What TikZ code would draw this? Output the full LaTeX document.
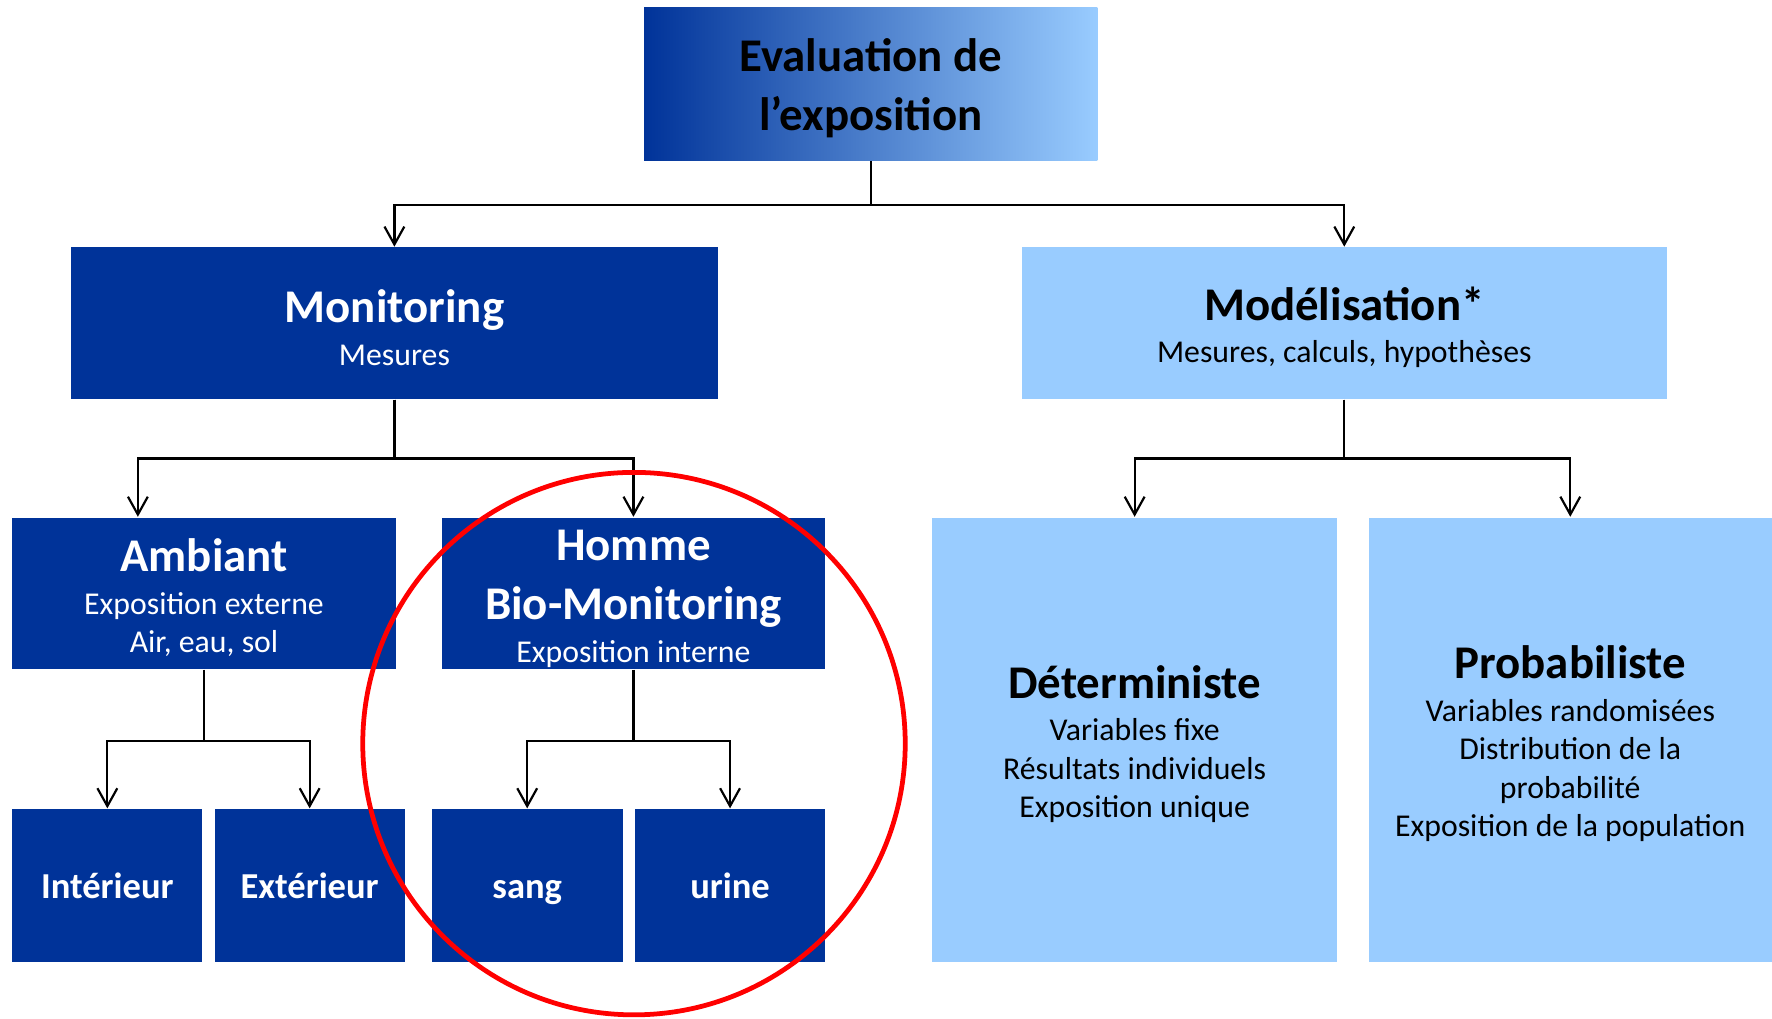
\documentclass[tikz,border=0pt]{standalone}
\usepackage{fontspec}
\setmainfont{Carlito}
\usepackage{xcolor}
\usepackage{tikz}
\usetikzlibrary{arrows.meta, positioning, calc}
\definecolor{darkblue}{RGB}{0,51,153}
\definecolor{lightblue}{RGB}{153,204,255}
\newcommand{\titfont}{\bfseries\fontsize{11.8}{14.8}\selectfont}
\newcommand{\subfont}{\fontsize{8}{9.7}\selectfont}
\newcommand{\leaffont}{\bfseries\fontsize{9.2}{11}\selectfont}
\newcommand{\boxtitle}[1]{{\titfont\rule{0pt}{10.5pt}#1}}

\begin{document}
\begin{tikzpicture}[
    darkbox/.style={fill=darkblue, text=white, inner sep=0pt, align=center, font=\subfont},
    lightbox/.style={fill=lightblue, text=black, inner sep=0pt, align=center, font=\subfont},
    leafbox/.style={darkbox, minimum height=1.35cm, font=\leaffont, text height=6.6pt, text depth=0pt},
    stem/.style={black, line width=0.55pt},
    link/.style={stem, -{Straight Barb[length=4.5pt, width=5pt]}}
]
    \useasboundingbox (0,0) rectangle (15.68,-9.01);

    \node[inner sep=0pt, minimum width=4.01cm, minimum height=1.35cm,
          left color=darkblue, middle color=lightblue!72!darkblue, right color=lightblue,
          align=center, font=\titfont, text depth=0pt] (Eval) at (7.705,-0.745) {Evaluation de\\l’exposition};

    \node[darkbox, minimum width=5.72cm, minimum height=1.34cm] (Mon) at (3.49,-2.86)
        {\boxtitle{Monitoring}\\[1pt]Mesures};
    \node[lightbox, minimum width=5.71cm, minimum height=1.34cm] (Mod) at (11.895,-2.86)
        {\boxtitle{Modélisation*}\\[1pt]Mesures, calculs, hypothèses};

    \node[darkbox, minimum width=3.39cm, minimum height=1.34cm] (Amb) at (1.805,-5.25)
        {\boxtitle{Ambiant}\\[1pt]Exposition externe\\Air, eau, sol};
    \node[darkbox, minimum width=3.39cm, minimum height=1.34cm] (Hom) at (5.605,-5.25)
        {\boxtitle{Homme}\\[5.1pt]{\titfont Bio-Monitoring}\\[1pt]Exposition interne};

    \node[leafbox, minimum width=1.68cm] (Int) at (0.95,-7.835) {Intérieur};
    \node[leafbox, minimum width=1.68cm] (Ext) at (2.74,-7.835) {Extérieur};
    \node[leafbox, minimum width=1.69cm] (Sang) at (4.665,-7.835) {sang};
    \node[leafbox, minimum width=1.68cm] (Urine) at (6.46,-7.835) {urine};

    \node[lightbox, minimum width=3.58cm, minimum height=3.93cm] (Det) at (10.04,-6.545)
        {\boxtitle{Déterministe}\\[1pt]Variables fixe\\Résultats individuels\\Exposition unique};
    \node[lightbox, minimum width=3.57cm, minimum height=3.93cm] (Prob) at (13.895,-6.545)
        {\boxtitle{Probabiliste}\\[1pt]Variables randomisées\\Distribution de la\\probabilité\\Exposition de la population};

    \draw[link] (Eval.south) -- ++(0,-0.39) -| (Mon.north);
    \draw[link] (Eval.south) -- ++(0,-0.39) -| (Mod.north);
    \draw[link] (Mon.south) -- ++(0,-0.52) -| ([xshift=-0.585cm]Amb.north);
    \draw[link] (Mon.south) -- ++(0,-0.52) -| (Hom.north);
    \draw[link] (Mod.south) -- ++(0,-0.52) -| (Det.north);
    \draw[link] (Mod.south) -- ++(0,-0.52) -| (Prob.north);
    \draw[link] (Amb.south) -- ++(0,-0.63) -| (Int.north);
    \draw[link] (Amb.south) -- ++(0,-0.63) -| (Ext.north);
    \draw[link] (Hom.south) -- ++(0,-0.63) -| (Sang.north);
    \draw[link] (Hom.south) -- ++(0,-0.63) -| (Urine.north);

    \coordinate (Ring) at (5.61,-6.58);
    \draw[red, line width=1.2pt] (Ring) circle (2.40);
\end{tikzpicture}
\end{document}
